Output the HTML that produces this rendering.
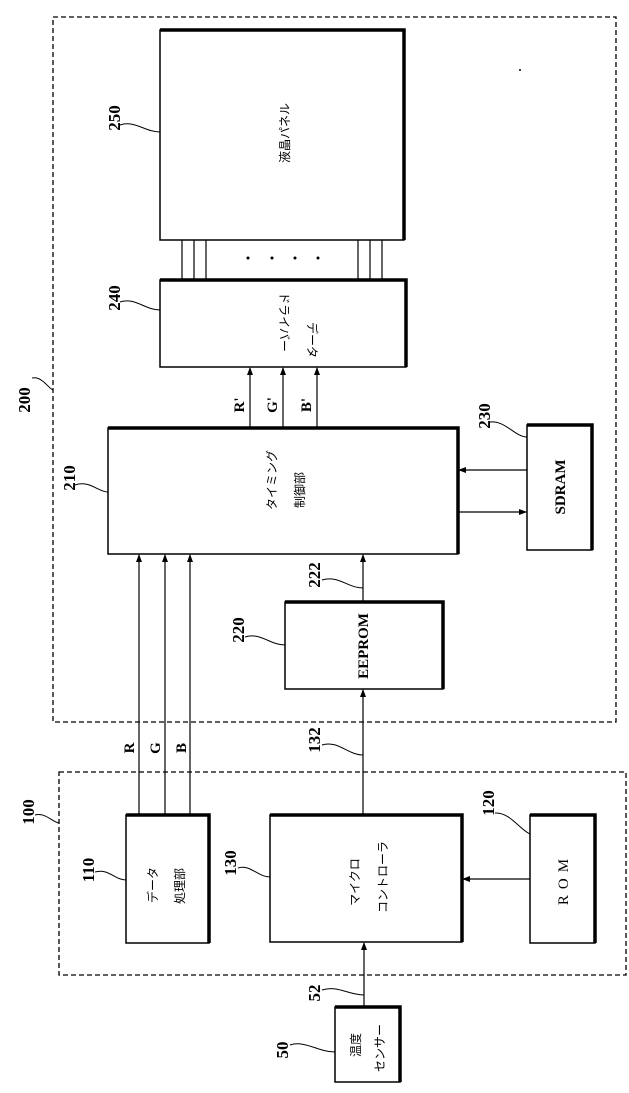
<!DOCTYPE html>
<html><head><meta charset="utf-8"><style>
html,body{margin:0;padding:0;background:#fff;}
svg{display:block;}
.n{font-family:"Liberation Serif",serif;font-size:17px;font-weight:bold;fill:#000;}
.j{font-family:"Liberation Sans","Noto Sans CJK JP",sans-serif;font-size:12px;fill:#000;}
.l{font-family:"Liberation Serif",serif;font-size:15px;font-weight:bold;fill:#000;}
</style></head><body>
<svg width="629" height="1093" viewBox="0 0 629 1093" xmlns="http://www.w3.org/2000/svg">
<defs>
<marker id="a" markerWidth="8" markerHeight="10" refX="7" refY="4" orient="auto" markerUnits="userSpaceOnUse">
<path d="M0,1 L8,4 L0,7 z" fill="#000"/></marker>
</defs>
<g fill="none" stroke="#000">
<rect x="53" y="17" width="563" height="705" stroke-width="1.3" stroke-dasharray="5,3"/>
<rect x="59" y="772" width="567" height="203" stroke-width="1.3" stroke-dasharray="5,3"/>
<g stroke-width="1.5">
<rect x="160" y="30" width="244" height="210"/>
<rect x="160" y="280" width="246" height="87"/>
<rect x="108" y="428" width="350" height="126"/>
<rect x="527" y="425" width="65" height="125"/>
<rect x="285" y="602" width="158" height="87"/>
<rect x="126" y="815" width="83" height="128"/>
<rect x="270" y="815" width="192" height="127"/>
<rect x="530" y="815" width="65" height="128"/>
<rect x="335" y="1007" width="65" height="75"/>
</g>
<g stroke-width="3.5">
<path d="M160,30 H404 V240"/>
<path d="M160,280 H406 V367"/>
<path d="M108,428 H458 V554"/>
<path d="M527,425 H592 V550"/>
<path d="M285,602 H443 V689"/>
<path d="M126,815 H209 V943"/>
<path d="M270,815 H462 V942"/>
<path d="M530,815 H595 V943"/>
<path d="M335,1007 H400 V1082"/>
</g>
<g stroke-width="1.2">
<path d="M182,240 V280 M194,240 V280 M206,240 V280 M358,240 V280 M370,240 V280 M382,240 V280"/>
</g>
<g stroke-width="1.2">
<path d="M250,428 V368" marker-end="url(#a)"/>
<path d="M283,428 V368" marker-end="url(#a)"/>
<path d="M317,428 V368" marker-end="url(#a)"/>
<path d="M527,470 H459" marker-end="url(#a)"/>
<path d="M459,512 H526" marker-end="url(#a)"/>
<path d="M139,815 V555" marker-end="url(#a)"/>
<path d="M165,815 V555" marker-end="url(#a)"/>
<path d="M190,815 V555" marker-end="url(#a)"/>
<path d="M363,602 V555" marker-end="url(#a)"/>
<path d="M363,815 V690" marker-end="url(#a)"/>
<path d="M530,879 H463" marker-end="url(#a)"/>
<path d="M364,1007 V943" marker-end="url(#a)"/>
</g>
<g stroke-width="1">
<path d="M120,125 C135,120 145,132 160,132"/>
<path d="M120,302 C135,297 145,310 160,310"/>
<path d="M32,378 C42,376 48,388 53,390"/>
<path d="M75,485 C90,480 98,492 108,492"/>
<path d="M490,422 C505,420 515,437 527,437"/>
<path d="M322,580 C338,575 348,588 363,588"/>
<path d="M245,637 C260,632 270,645 285,645"/>
<path d="M322,745 C338,740 348,755 363,755"/>
<path d="M35,815 C45,812 52,822 59,823"/>
<path d="M95,872 C108,868 115,880 126,880"/>
<path d="M238,868 C250,864 258,877 270,877"/>
<path d="M495,813 C510,812 520,830 530,834"/>
<path d="M322,990 C338,985 348,995 364,995"/>
<path d="M290,1045 C305,1040 318,1052 335,1052"/>
</g>
</g>
<g fill="#000"><circle cx="248" cy="258" r="1.5"/><circle cx="272" cy="258" r="1.5"/><circle cx="295" cy="258" r="1.5"/><circle cx="318" cy="258" r="1.5"/><circle cx="520" cy="70" r="1"/></g>
<g class="n">
<text transform="translate(120,118) rotate(-90)" text-anchor="middle">250</text>
<text transform="translate(120,298) rotate(-90)" text-anchor="middle">240</text>
<text transform="translate(30,400) rotate(-90)" text-anchor="middle">200</text>
<text transform="translate(75,478) rotate(-90)" text-anchor="middle">210</text>
<text transform="translate(490,416) rotate(-90)" text-anchor="middle">230</text>
<text transform="translate(320,575) rotate(-90)" text-anchor="middle">222</text>
<text transform="translate(244,630) rotate(-90)" text-anchor="middle">220</text>
<text transform="translate(320,740) rotate(-90)" text-anchor="middle">132</text>
<text transform="translate(34,812) rotate(-90)" text-anchor="middle">100</text>
<text transform="translate(94,870) rotate(-90)" text-anchor="middle">110</text>
<text transform="translate(236,863) rotate(-90)" text-anchor="middle">130</text>
<text transform="translate(494,803) rotate(-90)" text-anchor="middle">120</text>
<text transform="translate(320,993) rotate(-90)" text-anchor="middle">52</text>
<text transform="translate(288,1050) rotate(-90)" text-anchor="middle">50</text>
</g>
<g class="l">
<text transform="translate(244,405) rotate(-90)" text-anchor="middle">R'</text>
<text transform="translate(277,405) rotate(-90)" text-anchor="middle">G'</text>
<text transform="translate(311,405) rotate(-90)" text-anchor="middle">B'</text>
<text transform="translate(134,748) rotate(-90)" text-anchor="middle">R</text>
<text transform="translate(160,748) rotate(-90)" text-anchor="middle">G</text>
<text transform="translate(186,748) rotate(-90)" text-anchor="middle">B</text>
<text transform="translate(565,487) rotate(-90)" text-anchor="middle">SDRAM</text>
<text transform="translate(368,646) rotate(-90)" text-anchor="middle">EEPROM</text>
<text transform="translate(568,879) rotate(-90)" text-anchor="middle" letter-spacing="6" font-weight="normal">ROM</text>
</g>
<g class="j">
<text transform="translate(289,133) rotate(-90)" text-anchor="middle">液晶パネル</text>
<text transform="translate(280,322) rotate(90)" text-anchor="middle">ドライバー</text>
<text transform="translate(308,340) rotate(90)" text-anchor="middle">データ</text>
<text transform="translate(276,480) rotate(-90)" text-anchor="middle">タイミング</text>
<text transform="translate(304,490) rotate(-90)" text-anchor="middle">制御部</text>
<text transform="translate(157,885) rotate(-90)" text-anchor="middle">データ</text>
<text transform="translate(184,886) rotate(-90)" text-anchor="middle">処理部</text>
<text transform="translate(359,882) rotate(-90)" text-anchor="middle">マイクロ</text>
<text transform="translate(387,877) rotate(-90)" text-anchor="middle">コントローラ</text>
<text transform="translate(360,1045) rotate(-90)" text-anchor="middle">温度</text>
<text transform="translate(384,1048) rotate(-90)" text-anchor="middle">センサー</text>
</g>
</svg>
</body></html>
